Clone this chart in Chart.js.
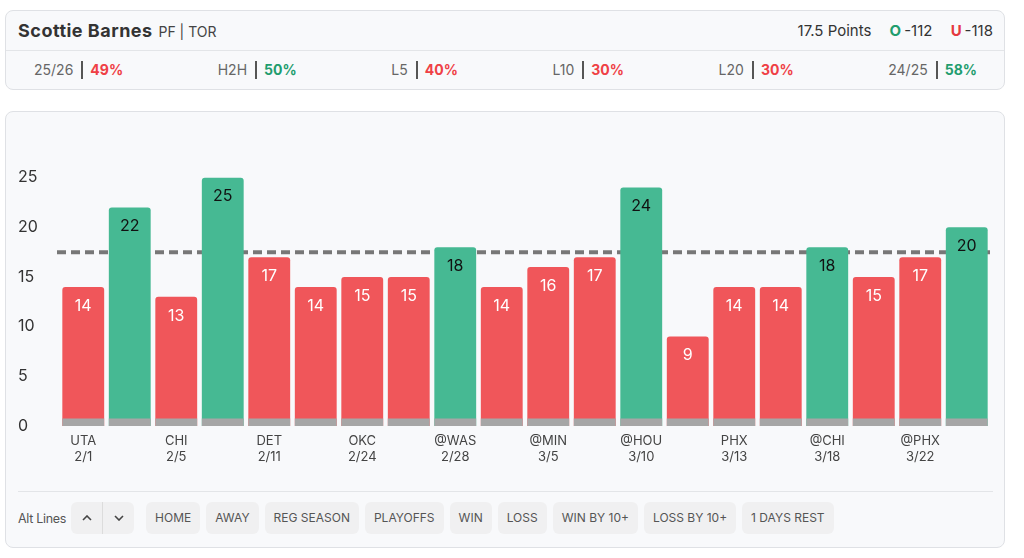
<!DOCTYPE html>
<html>
<head>
<meta charset="utf-8">
<title>Scottie Barnes - Points</title>
<script src="https://cdn.jsdelivr.net/npm/chart.js@4.4.1/dist/chart.umd.min.js"></script>
<style>
  body { margin: 0; width: 1024px; height: 558px; background: #fff; font-family: Inter, 'Open Sans', sans-serif; color: #333; position: relative; overflow: hidden; }
  .card { position: absolute; left: 5px; width: 1000px; box-sizing: border-box; border: 1px solid #dfe1e5; border-radius: 8px; background: #f8f9fb; }
  #head { top: 10px; height: 80px; }
  .row1 { height: 40px; box-sizing: border-box; border-bottom: 1px solid #e3e5e8; display: flex; align-items: center; justify-content: space-between; padding: 0 11px 0 12px; }
  .name { font-size: 18px; font-weight: 700; color: #333; letter-spacing: 0.5px; }
  .name small { font-size: 14px; font-weight: 400; color: #444; margin-left: 1px; letter-spacing: 0; }
  .line { font-size: 15px; color: #333; }
  .line b { margin-left: 14px; margin-right: 3px; }
  .over { color: #1f9d6e; }
  .under { color: #e5393f; }
  .row2 { height: 38px; display: flex; align-items: center; justify-content: space-between; padding: 0 27px 0 28px; font-size: 14px; }
  .stat .lbl { color: #666; }
  .stat .sep { display: inline-block; width: 2px; height: 18px; background: #555; margin: 0 7px 0 8px; vertical-align: -4px; }
  .stat b.red { color: #ef4045; }
  .stat b.green { color: #1f9d6e; }
  #chartCard { top: 111px; height: 437px; }
  #chartWrap { position: absolute; left: 0; top: 0; width: 998px; height: 376px; }
  .divider { position: absolute; left: 12px; top: 379px; width: 975px; height: 1px; background: #e3e5e8; }
  .filters { position: absolute; left: 12px; top: 390px; height: 32px; display: flex; align-items: center; font-size: 12px; color: #555; }
  .filters .alt { margin-right: 5px; font-size: 12.5px; letter-spacing: -0.3px; }
  .arrows { display: flex; height: 32px; background: #f0f0f1; border-radius: 6px; margin-right: 12px; }
  .arrows span { width: 31px; display: flex; align-items: center; justify-content: center; }
  .arrows span + span { border-left: 1px solid #dcdcdc; }
  .btn { height: 32px; line-height: 32px; padding: 0 9px; background: #f0f0f1; border-radius: 6px; margin-right: 6px; white-space: nowrap; }
</style>
</head>
<body>
<div class="card" id="head">
  <div class="row1">
    <div class="name">Scottie Barnes <small>PF | TOR</small></div>
    <div class="line">17.5 Points <b class="over">O</b>-112 <b class="under">U</b>-118</div>
  </div>
  <div class="row2" id="stats"></div>
</div>

<div class="card" id="chartCard">
  <div id="chartWrap"><canvas id="pointsChart"></canvas></div>
  <div class="divider"></div>
  <div class="filters" id="filters">
    <span class="alt">Alt Lines</span>
    <div class="arrows">
      <span><svg width="10" height="6" viewBox="0 0 10 6"><path d="M1 5 L5 1 L9 5" fill="none" stroke="#444" stroke-width="1.6"/></svg></span>
      <span><svg width="10" height="6" viewBox="0 0 10 6"><path d="M1 1 L5 5 L9 1" fill="none" stroke="#444" stroke-width="1.6"/></svg></span>
    </div>
  </div>
</div>

<script>
const opponents = ['UTA', '', 'CHI', '', 'DET', '', 'OKC', '', '@WAS', '', '@MIN', '', '@HOU', '', 'PHX', '', '@CHI', '', '@PHX', ''];
const dates = ['2/1', '', '2/5', '', '2/11', '', '2/24', '', '2/28', '', '3/5', '', '3/10', '', '3/13', '', '3/18', '', '3/22', ''];
const points = [14, 22, 13, 25, 17, 14, 15, 15, 18, 14, 16, 17, 24, 9, 14, 14, 18, 15, 17, 20];
const propLine = 17.5;
const baseBand = points.map(() => 0.75);
const yTicks = [0, 5, 10, 15, 20, 25];

const statLabels = ['25/26', 'H2H', 'L5', 'L10', 'L20', '24/25'];
const statValues = [49, 50, 40, 30, 30, 58];
const filterButtons = ['HOME', 'AWAY', 'REG SEASON', 'PLAYOFFS', 'WIN', 'LOSS', 'WIN BY 10+', 'LOSS BY 10+', '1 DAYS REST'];

const RED = '#f0565a';
const GREEN = '#46b993';
const GRAY = '#a6a6a6';

document.getElementById('stats').innerHTML = statLabels.map((l, i) =>
  `<div class="stat"><span class="lbl">${l}</span><span class="sep"></span><b class="${statValues[i] >= 50 ? 'green' : 'red'}">${statValues[i]}%</b></div>`
).join('');

const filters = document.getElementById('filters');
filterButtons.forEach((b) => {
  const el = document.createElement('div');
  el.className = 'btn';
  el.textContent = b;
  filters.appendChild(el);
});

Chart.defaults.font.family = 'Inter, "Open Sans", sans-serif';

// dashed prop line behind the bars
const propLinePlugin = {
  id: 'propLine',
  beforeDatasetsDraw(chart) {
    const { ctx, chartArea, scales } = chart;
    const py = scales.y.getPixelForValue(propLine);
    ctx.save();
    ctx.strokeStyle = '#777';
    ctx.lineWidth = 4;
    ctx.setLineDash([9, 5]);
    ctx.beginPath();
    ctx.moveTo(chartArea.left - 3, py);
    ctx.lineTo(chartArea.right, py);
    ctx.stroke();
    ctx.restore();
  },
};

// value text inside the top of each bar
const valueLabels = {
  id: 'valueLabels',
  afterDatasetsDraw(chart) {
    const { ctx } = chart;
    const meta = chart.getDatasetMeta(0);
    ctx.save();
    ctx.font = '16px Inter, "Open Sans", sans-serif';
    ctx.textAlign = 'center';
    ctx.textBaseline = 'middle';
    meta.data.forEach((bar, i) => {
      ctx.fillStyle = points[i] > propLine ? '#111' : '#fff';
      ctx.fillText(points[i], bar.x, bar.y + 19);
    });
    ctx.restore();
  },
};

new Chart(document.getElementById('pointsChart'), {
  type: 'bar',
  data: {
    labels: opponents.map((o, i) => [o, dates[i]]),
    datasets: [
      {
        label: 'Points',
        data: points,
        backgroundColor: points.map((v) => (v > propLine ? GREEN : RED)),
        borderRadius: { topLeft: 3, topRight: 3 },
        borderSkipped: 'start',
        grouped: false,
        order: 1,
        barPercentage: 0.9,
        categoryPercentage: 1,
      },
      {
        label: 'base',
        data: baseBand,
        backgroundColor: GRAY,
        borderRadius: 0,
        grouped: false,
        order: 0,
        barPercentage: 0.9,
        categoryPercentage: 1,
      },
    ],
  },
  options: {
    responsive: true,
    maintainAspectRatio: false,
    animation: false,
    layout: { padding: { left: 12, right: 14, top: 16, bottom: 0 } },
    plugins: { legend: { display: false }, tooltip: { enabled: false } },
    scales: {
      x: {
        grid: { display: false, drawTicks: false },
        border: { display: false },
        ticks: { autoSkip: false, maxRotation: 0, padding: 7, color: '#444', font: { size: 13, lineHeight: 1.25 } },
        afterFit: (s) => { s.height = 62; },
      },
      y: {
        min: 0,
        max: 30,
        grid: { display: false, drawTicks: false },
        border: { display: false },
        afterBuildTicks: (s) => { s.ticks = yTicks.map((v) => ({ value: v })); },
        ticks: { crossAlign: 'far', color: '#333', font: { size: 16 } },
        afterFit: (s) => { s.width = 42; },
      },
    },
  },
  plugins: [propLinePlugin, valueLabels],
});
</script>
</body>
</html>
